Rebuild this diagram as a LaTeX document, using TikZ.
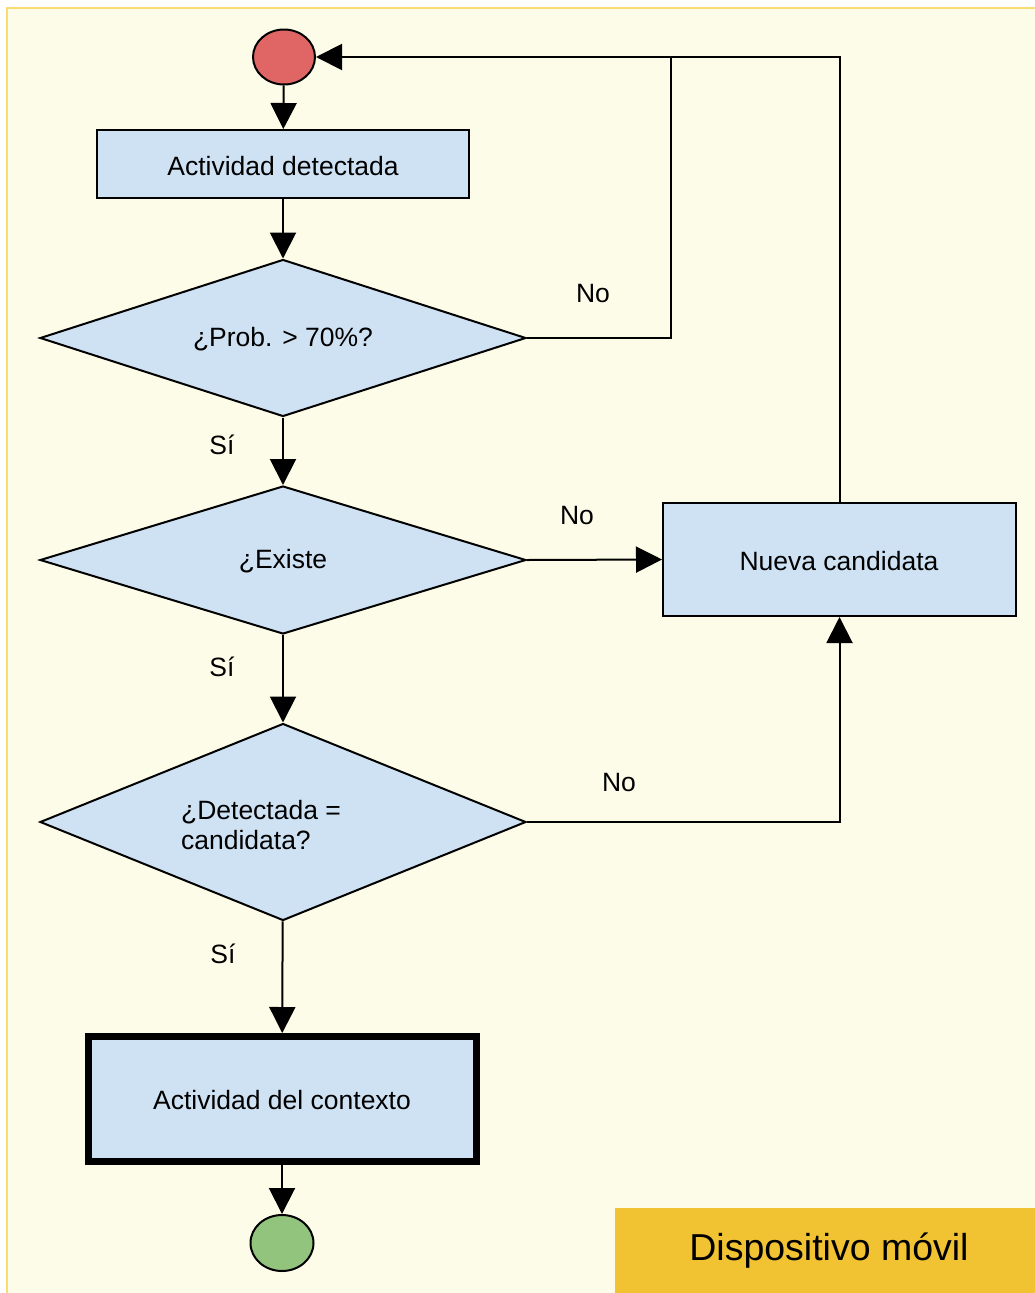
\documentclass[tikz,border=0pt]{standalone}
\usepackage{fontspec}
\setmainfont{Liberation Sans}
\usetikzlibrary{shapes.geometric,arrows.meta}
\definecolor{bgyel}{HTML}{FDFCE8}
\definecolor{bordyel}{HTML}{FADC72}
\definecolor{boxblue}{HTML}{CFE2F3}
\definecolor{startred}{HTML}{E06666}
\definecolor{endgreen}{HTML}{93C47D}
\definecolor{labgold}{HTML}{F1C232}
\begin{document}
\begin{tikzpicture}[x=1pt,y=-1pt,
  font=\fontsize{26.5}{30}\selectfont,
  box/.style={draw=black, line width=2pt, fill=boxblue, rectangle, inner sep=0pt},
  dia/.style={draw=black, line width=2pt, fill=boxblue, diamond, inner sep=0pt, minimum width=486pt},
  term/.style={draw=black, line width=2pt, ellipse, inner sep=0pt, minimum width=62pt, minimum height=55pt},
  arr/.style={line width=2pt, -{Triangle[length=26pt,width=26pt]}},
  conn/.style={line width=2pt},
  lab/.style={inner sep=0pt}
]
\useasboundingbox (0,0) rectangle (1035,1293);
\fill[white] (0,0) rectangle (1035,1293);
\fill[bgyel] (7,8) rectangle (1035,1293);
\draw[bordyel, line width=2pt] (7,1293) -- (7,8) -- (1035,8);

\node[term, fill=startred] (start) at (284,57) {};
\node[box, minimum width=372pt, minimum height=68pt] (det) at (283,164) {};
\node[lab] (dett) at (283,166) {Actividad detectada};
\node[dia, minimum height=157pt] (d1) at (283,338) {};
\node[lab] (d1t) at (283,339) {¿Prob. > 70\%?};
\node[dia, minimum height=148pt] (d2) at (283,560) {};
\node[lab] (d2t) at (283,561) {¿Existe};
\node[dia, minimum height=197pt] (d3) at (283,822) {};
\node[lab, align=left] (d3t) at (261,825) {¿Detectada =\\candidata?};
\node[box, minimum width=353pt, minimum height=113pt] (nueva) at (839.5,559.5) {};
\node[lab] (nuevat) at (839,561) {Nueva candidata};
\node[box, line width=7pt, minimum width=388pt, minimum height=125pt] (ctx) at (282,1099) {};
\node[lab] (ctxt) at (282,1100) {Actividad del contexto};
\node[term, fill=endgreen, minimum width=63pt, minimum height=56pt] (fin) at (282,1243) {};

\node[lab] (no1) at (593,294) {No};
\node[lab] (si1) at (222,445) {Sí};
\node[lab] (no2) at (577,516) {No};
\node[lab] (si2) at (222,667) {Sí};
\node[lab] (no3) at (619,783) {No};
\node[lab] (si3) at (223,954) {Sí};

\node[fill=labgold, anchor=north west, minimum width=420pt, minimum height=85pt, inner sep=0pt] (dev) at (615,1208) {};
\node[lab, font=\fontsize{37.5}{44}\selectfont] (devt) at (829,1251) {Dispositivo móvil};

\coordinate (j) at (671,57);
\draw[arr] (start) -- (det);
\draw[arr] (det) -- (d1);
\draw[arr] (d1) -- (d2);
\draw[arr] (d2) -- (d3);
\draw[arr] (d3) -- (ctx);
\draw[arr] (ctx) -- (fin);
\draw[arr] (d2.east) -- (nueva.west);
\draw[arr] (d1.east) -| (j) -- (start.east);
\draw[conn] (nueva.north) |- (j);
\draw[arr] (d3.east) -| (nueva.south);
\end{tikzpicture}
\end{document}
